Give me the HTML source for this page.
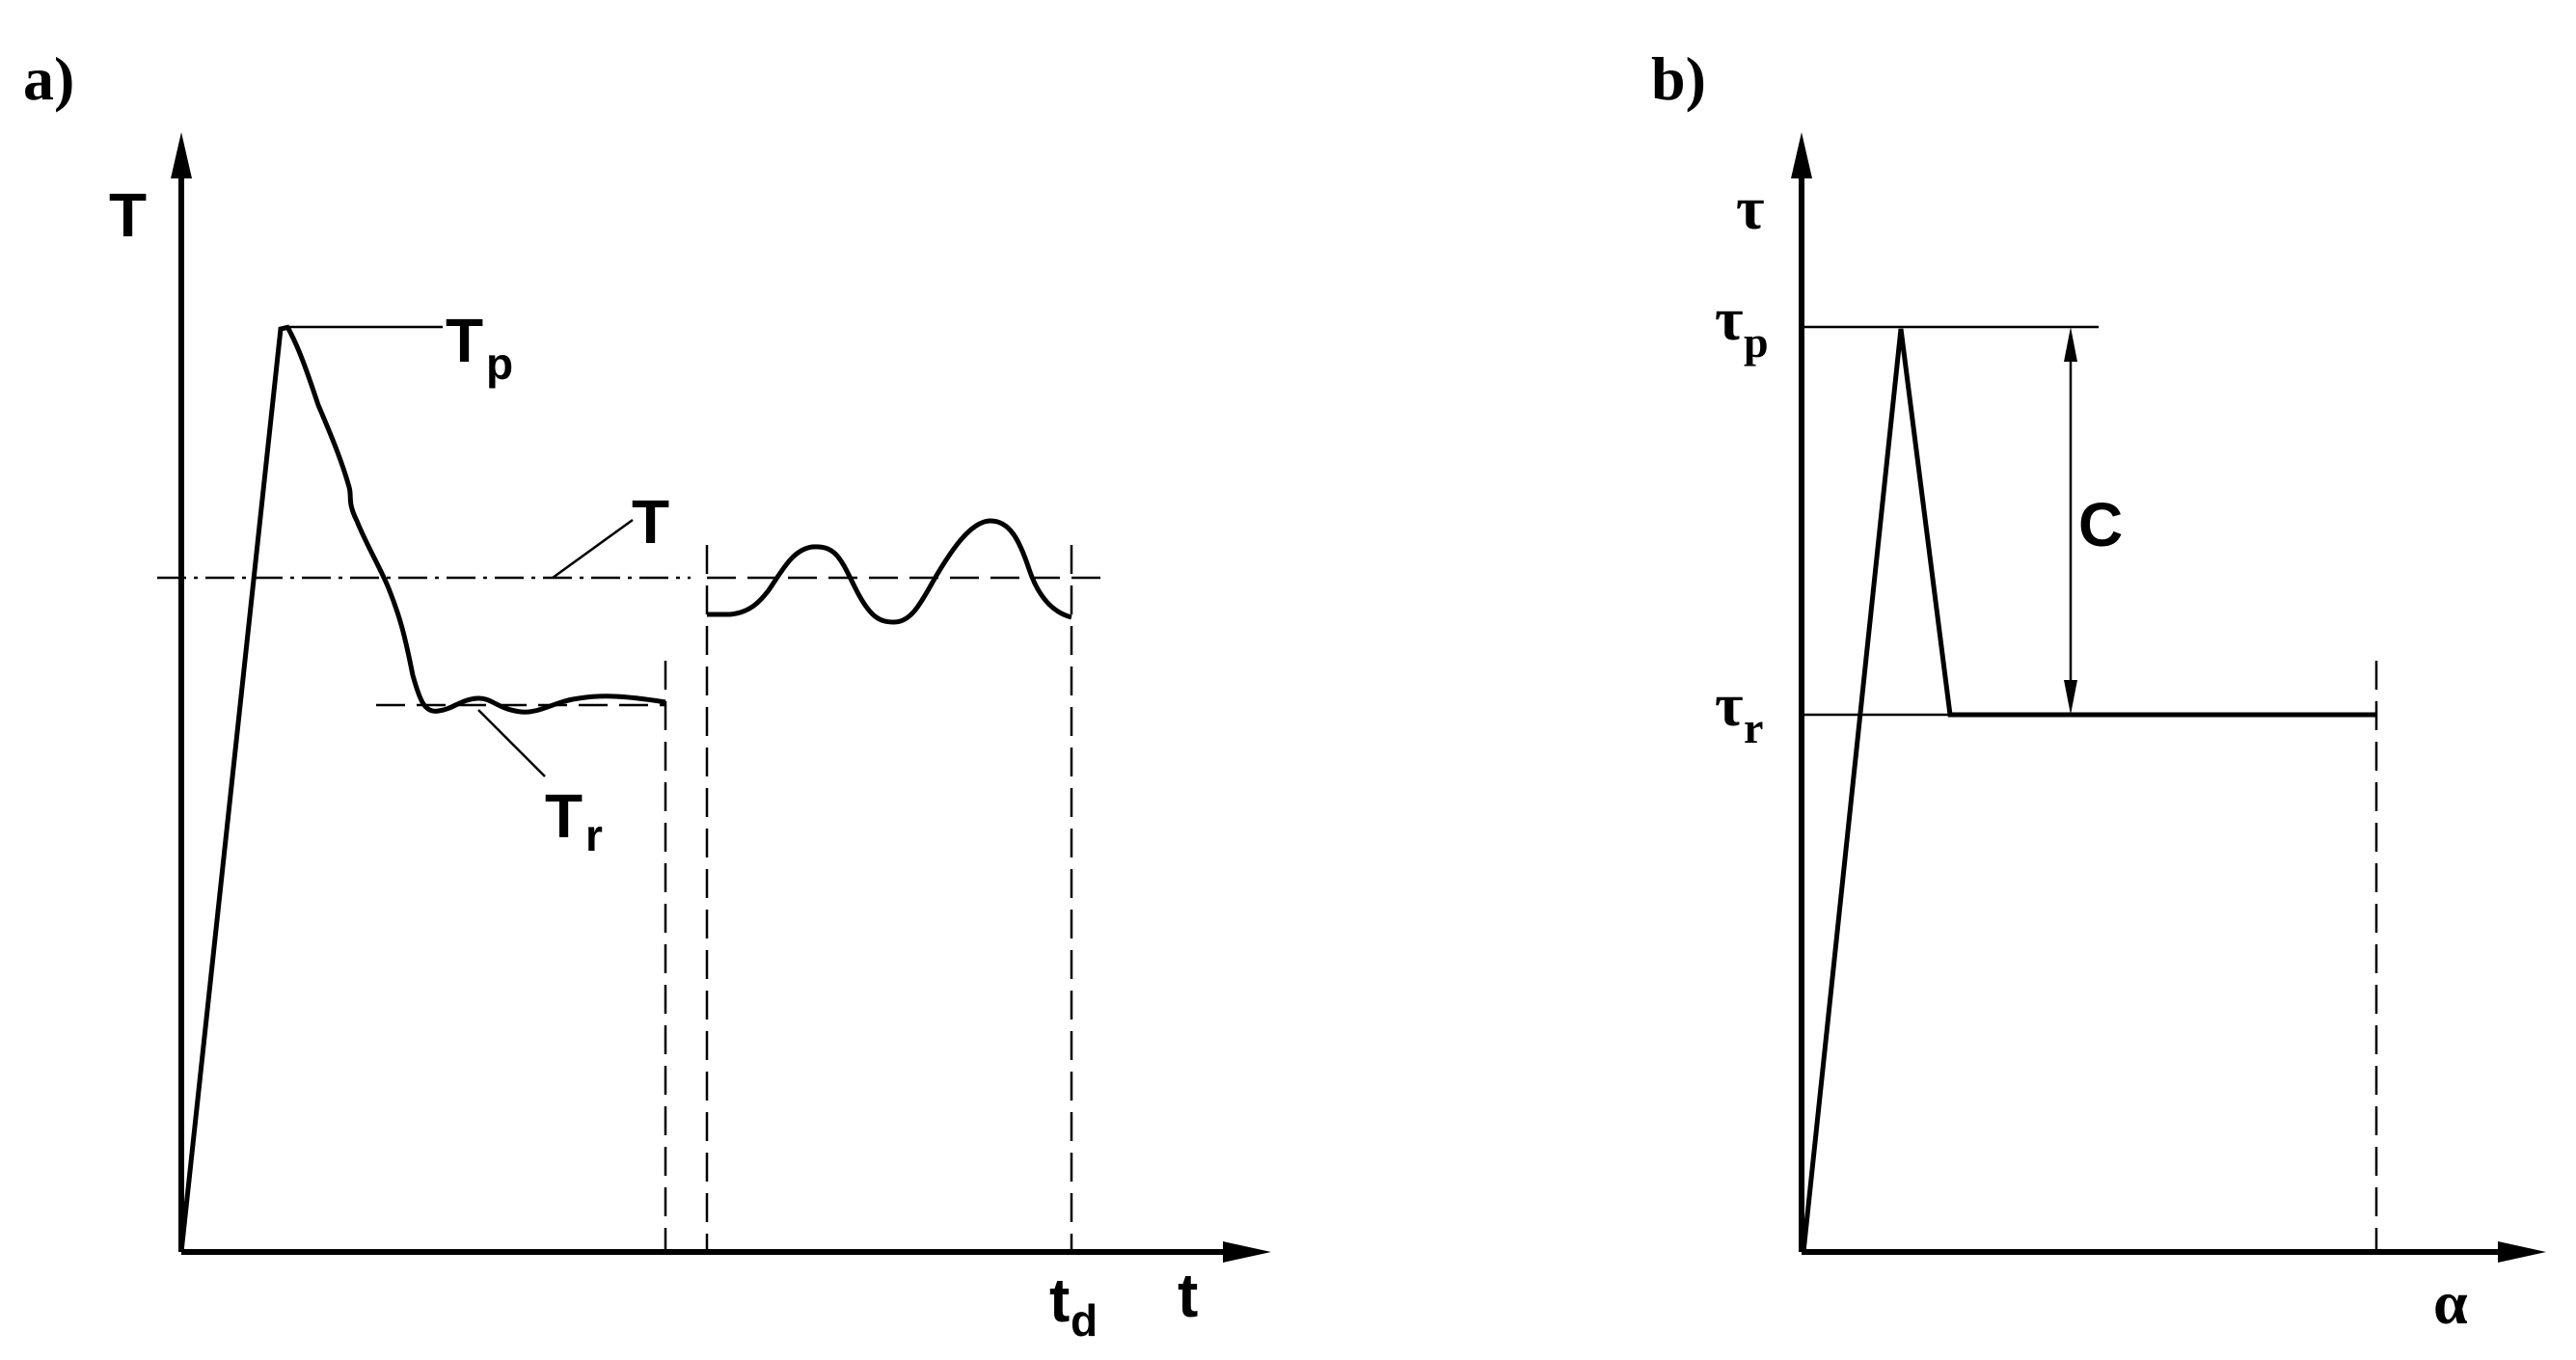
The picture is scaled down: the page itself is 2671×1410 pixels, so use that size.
<!DOCTYPE html>
<html><head><meta charset="utf-8"><style>
html,body{margin:0;padding:0;background:#fff;}
svg{display:block}
.s{font-family:"Liberation Sans",sans-serif;font-weight:bold;}
.r{font-family:"Liberation Serif",serif;font-weight:bold;}
</style></head><body>
<svg width="2671" height="1410" viewBox="0 0 2671 1410" xmlns="http://www.w3.org/2000/svg">
<g stroke="#000" fill="none" stroke-linecap="butt">
<line x1="188" y1="1298" x2="188" y2="180" stroke-width="6"/>
<polygon points="188,137 177,185 199,185" fill="#000" stroke="none"/>
<line x1="188" y1="1298" x2="1280" y2="1298" stroke-width="6"/>
<polygon points="1318,1298 1268,1287 1268,1309" fill="#000" stroke="none"/>
<polyline points="188,1298 291,341 300,339" stroke-width="5"/>
<line x1="300" y1="339" x2="459" y2="339" stroke-width="2.5"/>
<path d="M298,339 C310,360 320,390 330,420 C345,455 355,480 362,505 C365,515 360,520 370,540 C380,565 395,590 403,610 C415,640 420,660 428,700 C435,725 440,740 455,737 C470,735 478,725 495,724 C510,723 515,735 540,738 C560,740 575,727 600,724 C620,721 640,720 690,728" stroke-width="5"/>
<line x1="390" y1="731" x2="690" y2="731" stroke-width="2.5" stroke-dasharray="30,12"/>
<line x1="496" y1="736" x2="565" y2="805" stroke-width="2.5"/>
<line x1="163" y1="599" x2="716" y2="599" stroke-width="2.5" stroke-dasharray="30,8,4,8"/>
<line x1="733" y1="599" x2="1150" y2="599" stroke-width="2.5" stroke-dasharray="30,12"/>
<line x1="573" y1="599" x2="656" y2="539" stroke-width="2.5"/>
<line x1="690" y1="685" x2="690" y2="1298" stroke-width="2.5" stroke-dasharray="30,12"/>
<line x1="733" y1="565" x2="733" y2="1298" stroke-width="2.5" stroke-dasharray="30,12"/>
<line x1="1111" y1="565" x2="1111" y2="1298" stroke-width="2.5" stroke-dasharray="30,12"/>
<path d="M733,637 L757,637 C777,635 787,625 797,612 C812,590 822,570 842,567 C867,565 872,580 887,610 C902,640 912,645 927,645 C947,645 957,620 972,595 C987,570 1007,540 1027,540 C1047,540 1057,560 1067,590 C1077,620 1092,635 1111,640" stroke-width="5"/>
<line x1="1868" y1="1298" x2="1868" y2="180" stroke-width="6"/>
<polygon points="1868,137 1857,185 1879,185" fill="#000" stroke="none"/>
<line x1="1868" y1="1298" x2="2600" y2="1298" stroke-width="6"/>
<polygon points="2640,1298 2590,1287 2590,1309" fill="#000" stroke="none"/>
<polyline points="1870,1298 1971,341 2022,741 2464,741" stroke-width="5" stroke-linejoin="miter"/>
<line x1="1868" y1="339" x2="2176" y2="339" stroke-width="2.5"/>
<line x1="1868" y1="741" x2="2022" y2="741" stroke-width="2.5"/>
<line x1="2464" y1="685" x2="2464" y2="1298" stroke-width="2.5" stroke-dasharray="30,12"/>
<line x1="2147" y1="370" x2="2147" y2="710" stroke-width="2.5"/>
<polygon points="2147,339 2140,375 2154,375" fill="#000" stroke="none"/>
<polygon points="2147,741 2140,705 2154,705" fill="#000" stroke="none"/>
</g>
<g fill="#000">
<text x="24" y="103" class="r" font-size="64">a)</text>
<text x="113" y="245" class="s" font-size="64">T</text>
<text x="462" y="375" class="s" font-size="64">T</text>
<text x="504" y="393" class="s" font-size="46">p</text>
<text x="655" y="563" class="s" font-size="64">T</text>
<text x="565" y="868" class="s" font-size="64">T</text>
<text x="607" y="882" class="s" font-size="46">r</text>
<text x="1088" y="1370" class="s" font-size="64">t</text>
<text x="1110" y="1385" class="s" font-size="46">d</text>
<text x="1221" y="1365" class="s" font-size="64">t</text>
<text x="1712" y="103" class="r" font-size="64">b)</text>
<text x="1800" y="237" class="r" font-size="64">τ</text>
<text x="1778" y="352" class="r" font-size="64">τ</text>
<text x="1808" y="370" class="r" font-size="46">p</text>
<text x="1778" y="752" class="r" font-size="64">τ</text>
<text x="1808" y="770" class="r" font-size="46">r</text>
<text x="2155" y="566" class="s" font-size="64">C</text>
<text x="2523" y="1372" class="r" font-size="64">α</text>
</g>
</svg>
</body></html>
